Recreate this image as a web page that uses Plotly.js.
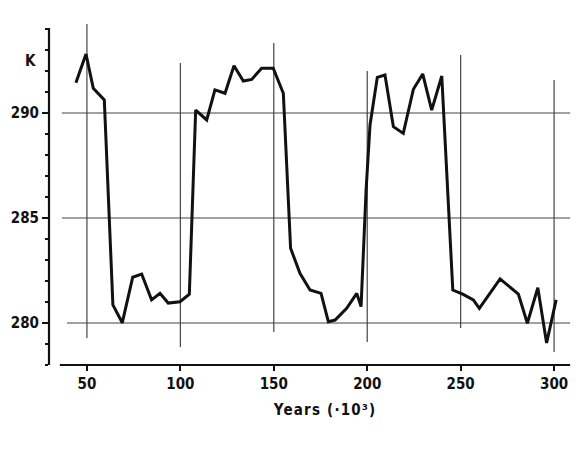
<!DOCTYPE html>
<html>
<head>
<meta charset="utf-8">
<script src="https://cdn.plot.ly/plotly-3.0.1.min.js"></script>
<style>
  html, body { margin: 0; padding: 0; background: #fff; }
  #chart { width: 584px; height: 452px; }
  svg text { font-stretch: condensed; }
</style>
</head>
<body>
<div id="chart"></div>
<script>
// ---- data ----
const years = [44.1, 49.5, 53.4, 59.3, 63.9, 68.9, 74.5, 79.3, 84.6, 89.1,
               93.5, 99.8, 104.8, 108.2, 114.1, 118.5, 123.9, 128.7, 133.7, 138.2,
               143.5, 149.7, 155.1, 159.0, 164.0, 169.4, 175.3, 179.2, 182.8, 189.0,
               194.4, 196.7, 199.4, 201.5, 205.4, 209.5, 214.0, 219.3, 224.7, 229.7,
               234.5, 239.9, 245.8, 251.1, 256.8, 260.0, 271.1, 276.4, 280.9, 285.7,
               291.3, 296.0, 301.1];
const temps = [291.44, 292.81, 291.18, 290.62, 280.86, 280.01, 282.18, 282.33, 281.10, 281.41,
               280.95, 281.01, 281.37, 290.14, 289.67, 291.10, 290.94, 292.25, 291.52, 291.60,
               292.13, 292.13, 290.94, 283.56, 282.37, 281.57, 281.41, 280.06, 280.14, 280.70,
               281.41, 280.78, 286.33, 289.43, 291.70, 291.81, 289.35, 289.03, 291.13, 291.86,
               290.14, 291.76, 281.57, 281.37, 281.10, 280.70, 282.10, 281.69, 281.38, 279.99,
               281.68, 279.05, 281.10];
const xTicks = [50, 100, 150, 200, 250, 300];
const xTickLabels = ['50', '100', '150', '200', '250', '300'];
const yTicks = [280, 285, 290];
const yTickLabels = ['280', '285', '290'];
const xTitle = 'Years (·10³)';
const yUnit = 'K';

// ---- decoration (hand-drawn grid extents, in axis units) ----
const vGridLow  = [279.29, 278.86, 279.57, 279.10, 279.76, 278.62];
const vGridHigh = [294.24, 292.38, 293.33, 292.00, 292.76, 291.57];
const hGridStart = [39.3, 36.6, 36.6];
const hGridEnd = 308.6;

const ink = '#111';
const gridInk = '#444';
const shapes = [];
xTicks.forEach((v, i) => {
  shapes.push({type: 'line', xref: 'x', yref: 'y', x0: v, x1: v,
    y0: vGridLow[i], y1: vGridHigh[i], line: {color: gridInk, width: 1.2}, layer: 'below'});
});
yTicks.forEach((v, i) => {
  shapes.push({type: 'line', xref: 'x', yref: 'y', x0: hGridStart[i], x1: hGridEnd,
    y0: v, y1: v, line: {color: gridInk, width: 1.2}, layer: 'below'});
});
// axis lines
shapes.push({type: 'line', xref: 'paper', yref: 'y', x0: 0, x1: 0, y0: 278, y1: 294.05,
  line: {color: ink, width: 2.2}});
shapes.push({type: 'line', xref: 'x', yref: 'paper', x0: 35.5, x1: 308.6, y0: 0, y1: 0,
  line: {color: ink, width: 2.2}});

const font = {family: 'DejaVu Sans, Liberation Sans, sans-serif', size: 15, color: ink, weight: 'bold'};

const trace = {
  x: years, y: temps, type: 'scatter', mode: 'lines',
  line: {color: ink, width: 3, shape: 'linear'},
  hoverinfo: 'skip', cliponaxis: false
};

const layout = {
  width: 584, height: 452,
  margin: {l: 49, r: 9, t: 18, b: 87},
  paper_bgcolor: '#fff', plot_bgcolor: '#fff',
  showlegend: false,
  font: font,
  xaxis: {
    range: [29.7, 311.2], showgrid: false, zeroline: false, showline: false,
    tickmode: 'array', tickvals: xTicks, ticktext: xTickLabels,
    ticks: 'outside', ticklen: 5, tickwidth: 2, tickcolor: ink,
    tickfont: font
  },
  yaxis: {
    range: [278, 294.524], showgrid: false, zeroline: false, showline: false,
    tickmode: 'array', tickvals: yTicks, ticktext: yTickLabels,
    ticks: 'outside', ticklen: 6, tickwidth: 2, tickcolor: ink,
    tickfont: font,
    minor: {tickmode: 'linear', tick0: 278, dtick: 1, ticks: 'outside', ticklen: 3, tickwidth: 2, tickcolor: ink, showgrid: false}
  },
  shapes: shapes,
  annotations: [
    {text: yUnit, xref: 'paper', yref: 'paper', x: -0.036, y: 0.875,
     showarrow: false, font: font, xanchor: 'center', yanchor: 'middle'},
    {text: xTitle, xref: 'paper', yref: 'paper', x: 0.523, y: -0.13,
     showarrow: false, font: font, xanchor: 'center', yanchor: 'middle'}
  ]
};

Plotly.newPlot('chart', [trace], layout, {staticPlot: true, displayModeBar: false}).then(() => {
  const ann = document.querySelectorAll('.annotation-text');
  if (ann.length > 1) ann[1].style.letterSpacing = '1.2px';
});
</script>
</body>
</html>
